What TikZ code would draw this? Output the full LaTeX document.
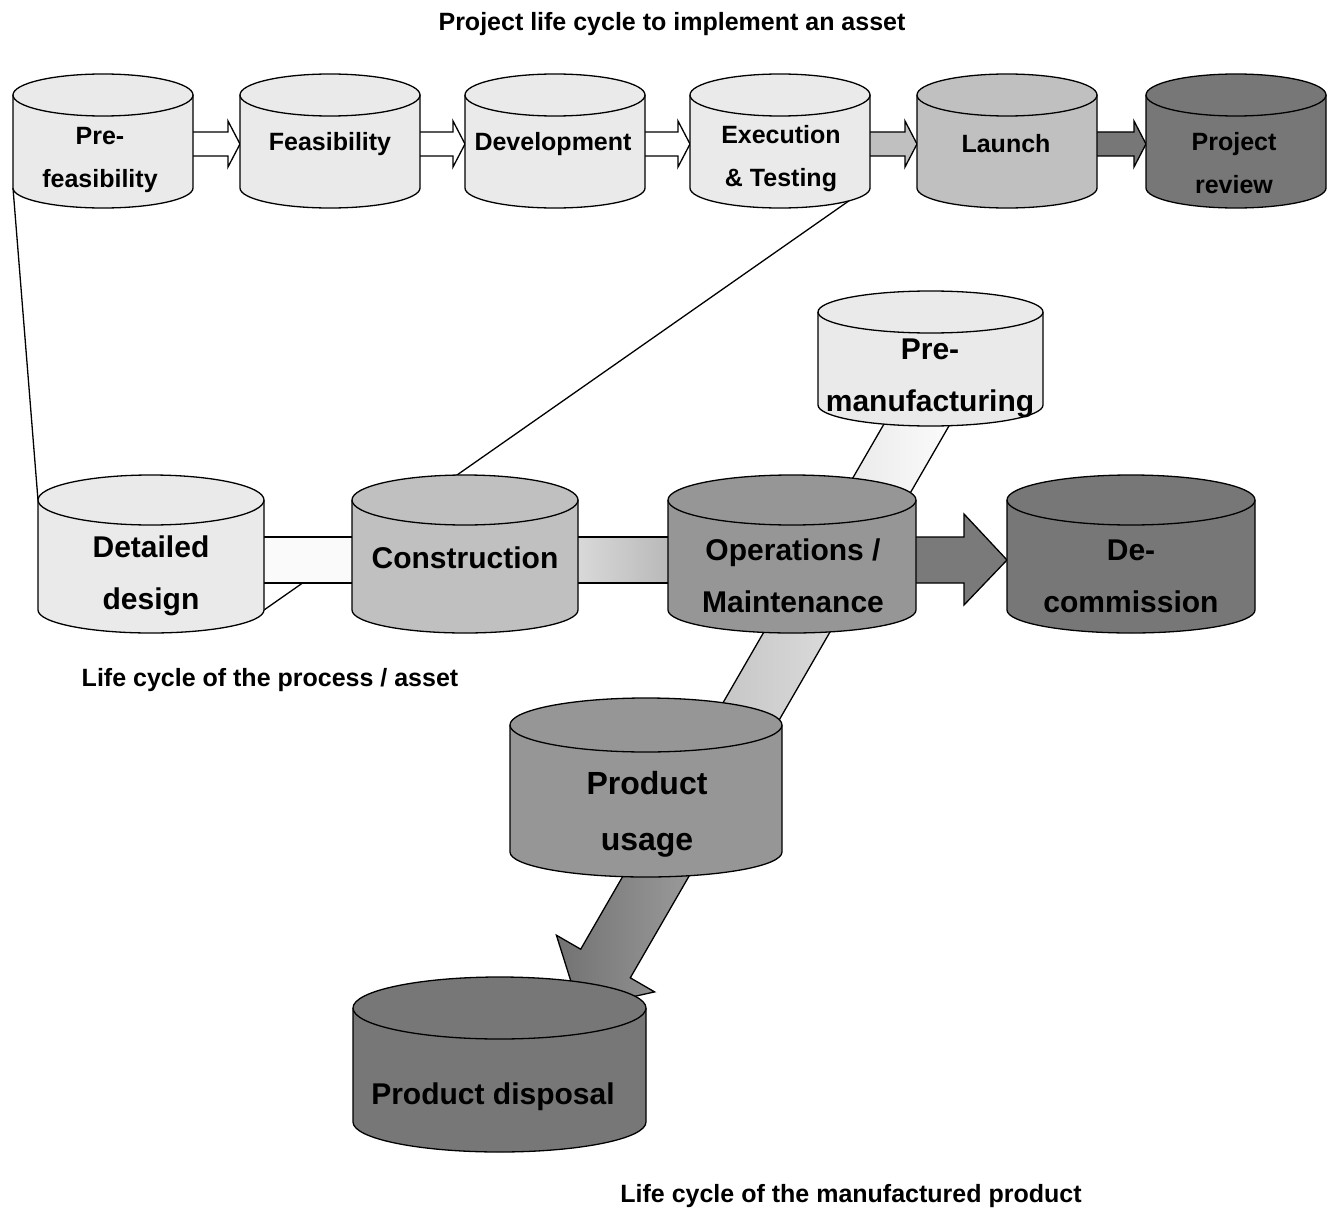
\documentclass[tikz,border=0pt]{standalone}
\usepackage{fontspec}
\setmainfont{Liberation Sans}
\usetikzlibrary{calc}
\definecolor{cLight}{HTML}{EAEAEA}
\definecolor{cMid}{HTML}{C0C0C0}
\definecolor{cDark}{HTML}{969696}
\definecolor{cDarker}{HTML}{777777}
\definecolor{bandA}{HTML}{FAFAFA}
\definecolor{bandBa}{HTML}{DEDEDE}
\definecolor{bandBb}{HTML}{B4B4B4}
\definecolor{sOneA}{HTML}{E6E6E6}
\definecolor{sOneB}{HTML}{FCFCFC}
\definecolor{sTwoA}{HTML}{C4C4C4}
\definecolor{sTwoB}{HTML}{E6E6E6}
\definecolor{sThreeA}{HTML}{727272}
\definecolor{sThreeB}{HTML}{A4A4A4}
\definecolor{opArrow}{HTML}{7A7A7A}
% cylinder drawn on a body node: name, rx, ry top, ry bottom, fill
\newcommand\drawcyl[5]{%
  \filldraw[fill=#5] (#1.north west) -- (#1.south west)
    .. controls +(0,0.5523*#4) and +(-0.5523*#2,0) .. ($(#1.south)+(0,#4)$)
    .. controls +(0.5523*#2,0) and +(0,0.5523*#4) .. (#1.south east)
    -- (#1.north east);
  \filldraw[fill=#5] (#1.north) ellipse[x radius=#2, y radius=#3];
}
% block arrow of the top row: from, to, fill
\newcommand\toparrowx[3]{%
  \filldraw[fill=#3] ($(#1.east)+(-8,-9.5)$) -- ($(#2.west)+(-12,-9.5)$)
    -- ($(#2.west)+(-12,-20.5)$) -- ($(#2.west)+(0,2.5)$)
    -- ($(#2.west)+(-12,25.5)$) -- ($(#2.west)+(-12,14.5)$)
    -- ($(#1.east)+(-8,14.5)$) -- cycle;
}
\begin{document}
\begin{tikzpicture}[x=1pt,y=-1pt,line width=1.3pt,line join=miter,
  body/.style={rectangle,inner sep=0pt,outer sep=0pt,draw=none},
  sm/.style={font=\bfseries\fontsize{25}{43}\selectfont,align=center,inner sep=0pt},
  md/.style={font=\bfseries\fontsize{30}{52}\selectfont,align=center,inner sep=0pt},
  lg/.style={font=\bfseries\fontsize{32}{56}\selectfont,align=center,inner sep=0pt}]
\useasboundingbox (0,0) rectangle (1328,1209);

% body nodes (side region of each cylinder)
\node[body,minimum width=180,minimum height=93] (pf) at (103,141.5) {};
\node[body,minimum width=180,minimum height=93] (fe) at (330,141.5) {};
\node[body,minimum width=180,minimum height=93] (dv) at (555,141.5) {};
\node[body,minimum width=180,minimum height=93] (ex) at (780,141.5) {};
\node[body,minimum width=180,minimum height=93] (la) at (1007,141.5) {};
\node[body,minimum width=180,minimum height=93] (pr) at (1236,141.5) {};
\node[body,minimum width=226,minimum height=110] (dd) at (151,555) {};
\node[body,minimum width=226,minimum height=110] (co) at (465,555) {};
\node[body,minimum width=248,minimum height=110] (op) at (792,555) {};
\node[body,minimum width=248,minimum height=110] (dc) at (1131,555) {};
\node[body,minimum width=225,minimum height=93] (pm) at (930.5,358.5) {};
\node[body,minimum width=272,minimum height=127] (pu) at (646,788.5) {};
\node[body,minimum width=293,minimum height=114] (pd) at (499.5,1065) {};

% projection lines
\draw (pf.south west) -- (dd.north west);
\draw ($(ex.south)+(69,12.8)$) -- (dd.south east);

% horizontal bands of the asset life cycle
\draw[fill=bandA] ($(dd.east)+(-20,-18)$) rectangle ($(co.west)+(20,28)$);
\draw[left color=bandBa,right color=bandBb] ($(co.east)+(-15,-18)$) rectangle ($(op.west)+(15,28)$);
\filldraw[fill=opArrow] ($(op.east)+(-16,-18)$) -- ($(dc.west)+(-43,-18)$)
  -- ($(dc.west)+(-43,-41)$) -- ($(dc.west)+(0,5)$) -- ($(dc.west)+(-43,50)$)
  -- ($(dc.west)+(-43,28)$) -- ($(op.east)+(-16,28)$) -- cycle;

% slanted band of the product life cycle
\draw[left color=sOneA,right color=sOneB] (906.2,385.5) -- (825.2,525.8) -- (874.8,554.4) -- (955.8,414.1) -- cycle;
\draw[left color=sTwoA,right color=sTwoB] (847.2,487.7) -- (709.7,725.8) -- (759.3,754.4) -- (896.8,516.3) -- cycle;
\draw[left color=sThreeA,right color=sThreeB] (675.2,785.6) -- (580.7,949.2) -- (556.4,935.2)
  -- (579.5,1008.6) -- (654.6,991.9) -- (630.3,977.8) -- (724.8,814.2) -- cycle;

% top row arrows
\toparrowx{pf}{fe}{white}
\toparrowx{fe}{dv}{white}
\toparrowx{dv}{ex}{white}
\toparrowx{ex}{la}{cMid}
\toparrowx{la}{pr}{cDarker}

% cylinders
\drawcyl{pf}{90}{21}{20}{cLight}
\drawcyl{fe}{90}{21}{20}{cLight}
\drawcyl{dv}{90}{21}{20}{cLight}
\drawcyl{ex}{90}{21}{20}{cLight}
\drawcyl{la}{90}{21}{20}{cMid}
\drawcyl{pr}{90}{21}{20}{cDarker}
\drawcyl{dd}{113}{25}{23}{cLight}
\drawcyl{co}{113}{25}{23}{cMid}
\drawcyl{op}{124}{25}{23}{cDark}
\drawcyl{dc}{124}{25}{23}{cDarker}
\drawcyl{pm}{112.5}{21}{21}{cLight}
\drawcyl{pu}{136}{27}{25}{cDark}
\drawcyl{pd}{146.5}{31}{30}{cDarker}

% labels
\node[sm] (pf-t) at (100,160) {Pre-\\feasibility};
\node[sm] (fe-t) at (330,144) {Feasibility};
\node[sm] (dv-t) at (553,144) {Development};
\node[sm] (ex-t) at (781,159) {Execution\\\& Testing};
\node[sm] (la-t) at (1006,144) {Launch};
\node[sm] (pr-t) at (1234,163) {Project\\review};
\node[md] (dd-t) at (151,576) {Detailed\\design};
\node[md] (co-t) at (465,558) {Construction};
\node[md] (op-t) at (793,576) {Operations /\\Maintenance};
\node[md] (dc-t) at (1131,576) {De-\\commission};
\node[md] (pm-t) at (930,378) {Pre-\\manufacturing};
\node[lg] (pu-t) at (647,814) {Product\\usage};
\node[font=\bfseries\fontsize{30}{36}\selectfont,inner sep=0pt] (pd-t) at (493,1097) {Product disposal};

\node[sm] (title) at (672,24) {Project life cycle to implement an asset};
\node[sm] (lc1) at (270,680) {Life cycle of the process / asset};
\node[sm] (lc2) at (851,1196) {Life cycle of the manufactured product};
\end{tikzpicture}
\end{document}
